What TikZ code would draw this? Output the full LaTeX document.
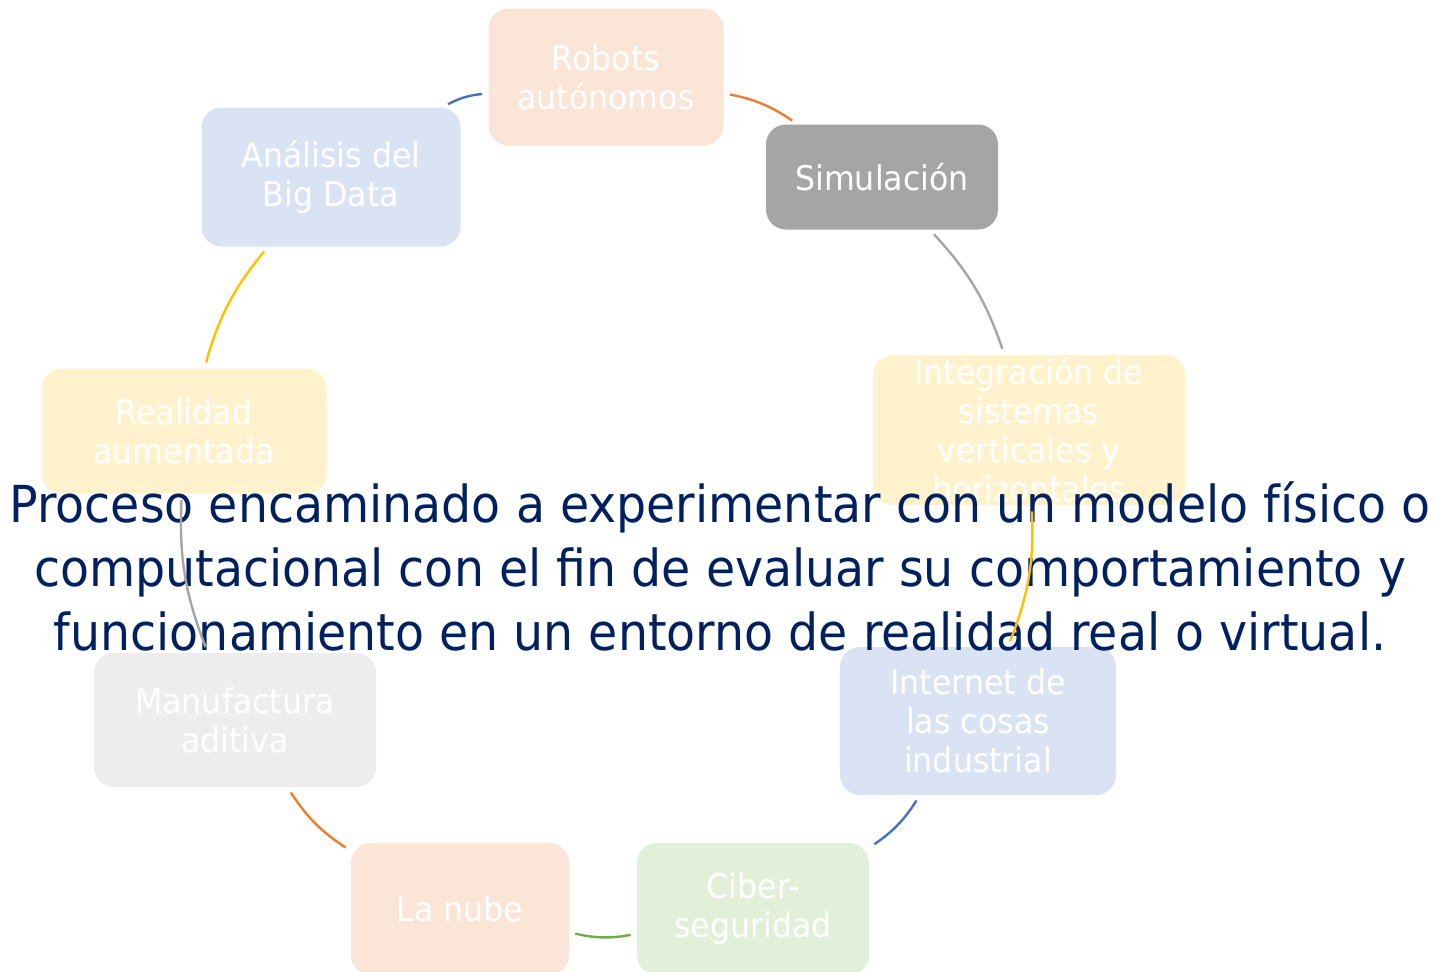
\documentclass[tikz,border=0pt]{standalone}
\usepackage{fontspec}
\setmainfont[FakeStretch=0.93]{DejaVu Sans}
\usetikzlibrary{positioning}
\definecolor{navy}{HTML}{002060}
\definecolor{peach}{HTML}{FBE5D6}
\definecolor{cream}{HTML}{FFF2CC}
\definecolor{paleblue}{HTML}{DAE3F3}
\definecolor{palegreen}{HTML}{E2F0D9}
\definecolor{palegray}{HTML}{EDEDED}
\definecolor{midgray}{HTML}{A5A5A5}
\definecolor{acorange}{HTML}{ED7D31}
\definecolor{acgold}{HTML}{FFC000}
\definecolor{acblue}{HTML}{4472C4}
\definecolor{acgreen}{HTML}{70AD47}
\newcommand{\tikztech}[6]{\node[techbox, fill=#4, minimum width=#5, minimum height=#6] (#1) at (#2) {#3};}
\tikzset{
  techbox/.style={rectangle, rounded corners=10pt, text=white, align=center, inner sep=1pt, font=\fontsize{17}{19.5}\selectfont},
  ring/.style={line width=1.2pt, bend left=12, shorten <=3pt, shorten >=3pt},
  desc/.style={text=navy, align=center, font=\fontsize{25.5}{32}\selectfont}
}

\begin{document}
\begin{tikzpicture}[x=0.5pt, y=0.5pt]
  \useasboundingbox (0,0) rectangle (1435,-971);
  \tikztech{rob}{606,-77}{Robots\\autónomos}{peach}{117.5pt}{68.5pt}
  \tikztech{sim}{882,-177}{Simulación}{midgray}{116pt}{52.5pt}
  \tikztech{integ}{1029,-430}{Integración de\\sistemas\\verticales y\\horizontales}{cream}{156pt}{75pt}
  \tikztech{iot}{978,-721}{Internet de\\las cosas\\industrial}{paleblue}{138pt}{74pt}
  \tikztech{ciber}{753,-909}{Ciber-\\seguridad}{palegreen}{116pt}{66pt}
  \tikztech{nube}{460,-909}{La nube}{peach}{109pt}{66pt}
  \tikztech{manuf}{235,-720}{Manufactura\\aditiva}{palegray}{141pt}{67pt}
  \tikztech{real}{184,-431}{Realidad\\aumentada}{cream}{142.5pt}{62.5pt}
  \tikztech{bigd}{331,-177}{Análisis del\\Big Data}{paleblue}{129.5pt}{69.5pt}
  % descripcion sobre las cajas
  \node[desc] (txt) at (720,-566) {Proceso encaminado a experimentar con un modelo físico o\\computacional con el fin de evaluar su comportamiento y\\funcionamiento en un entorno de realidad real o virtual.};
  % anillo
  \draw[ring, acorange] (rob) to (sim);
  \draw[ring, midgray] (sim) to (integ);
  \draw[ring, acgold] (integ) to (iot);
  \draw[ring, acblue] (iot) to (ciber);
  \draw[ring, acgreen] (ciber) to (nube);
  \draw[ring, acorange] (nube) to (manuf);
  \draw[ring, midgray] (manuf) to (real);
  \draw[ring, acgold] (real) to (bigd);
  \draw[ring, acblue] (bigd) to (rob);
\end{tikzpicture}
\end{document}
